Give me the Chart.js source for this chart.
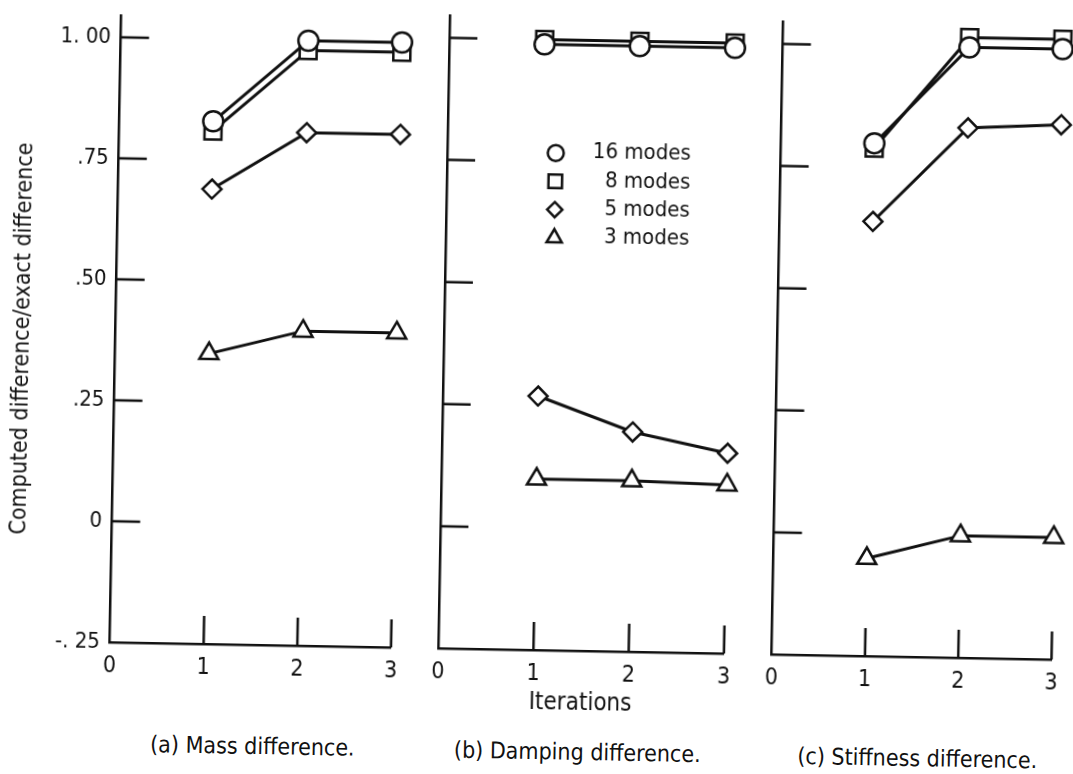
<!DOCTYPE html>
<html>
<head>
<meta charset="utf-8">
<title>Computed difference/exact difference vs iterations</title>
<script src="https://cdn.jsdelivr.net/npm/chart.js@4.4.1/dist/chart.umd.min.js"></script>
<style>
  html, body { margin: 0; padding: 0; background: #fff; overflow: hidden; }
  /* the plate is mounted with a slight clockwise tilt */
  #page { position: relative; width: 1073px; height: 774px; transform: rotate(1.05deg); transform-origin: 536.5px 387px; }
  #page canvas { position: absolute; }
  .caption { position: absolute; width: 400px; text-align: center; font-size: 23px; line-height: 30px; color: #111; white-space: nowrap; }
  #ytitle { position: absolute; left: -210px; top: 333px; width: 460px; height: 30px; line-height: 30px; text-align: center; font-size: 23px; color: #111; white-space: nowrap; transform: rotate(-90deg); }
</style>
</head>
<body>
<div id="page">
  <canvas id="mass" width="420" height="700" style="left:0;top:0"></canvas>
  <canvas id="damping" width="330" height="720" style="left:425px;top:0"></canvas>
  <canvas id="stiffness" width="313" height="700" style="left:760px;top:0"></canvas>
  <div id="ytitle">Computed difference/exact difference</div>
  <div class="caption" style="left:59px;top:736px">(a) Mass difference.</div>
  <div class="caption" style="left:384px;top:736px">(b) Damping difference.</div>
  <div class="caption" style="left:724px;top:736px">(c) Stiffness difference.</div>
</div>
<script>
// Iteration number on x, computed/exact difference ratio on y
const iterations = [1, 2, 3];
const seriesLabels = ['16 modes', '8 modes', '5 modes', '3 modes'];

const xTickValues = [0, 1, 2, 3];
const yTickValues = [-0.25, 0, 0.25, 0.5, 0.75, 1.0];
const yTickLabels = ['-. 25', '0', '.25', '.50', '.75', '1. 00'];

// (a) Mass difference
const massModes16 = [0.83, 1.00, 1.00];
const massModes8 = [0.81, 0.98, 0.98];
const massModes5 = [0.69, 0.81, 0.81];
const massModes3 = [0.35, 0.40, 0.40];

// (b) Damping difference
const dampingModes16 = [0.99, 0.99, 0.99];
const dampingModes8 = [1.00, 1.00, 1.00];
const dampingModes5 = [0.27, 0.20, 0.16];
const dampingModes3 = [0.10, 0.10, 0.095];

// (c) Stiffness difference
const stiffnessModes16 = [0.80, 1.00, 1.00];
const stiffnessModes8 = [0.79, 1.02, 1.02];
const stiffnessModes5 = [0.64, 0.835, 0.845];
const stiffnessModes3 = [-0.05, 0.00, 0.00];

const ink = '#111';
const pointStyles = ['circle', 'rect', 'rectRot', 'triangle'];
const pointRadii = [10, 12, 9.5, 11];
const TICK_LEN = 28;

/** First installed family from the list (width probe against generic fonts). */
function pickFamily(candidates, fallback) {
  const ctx = document.createElement('canvas').getContext('2d');
  const probe = 'Computed difference 0123';
  return candidates.find(name => ['monospace', 'serif'].some(generic => {
    ctx.font = `40px ${generic}`;
    const w0 = ctx.measureText(probe).width;
    ctx.font = `40px "${name}", ${generic}`;
    return ctx.measureText(probe).width !== w0;
  })) || fallback;
}

const family = pickFamily(['Liberation Sans Narrow', 'DejaVu Sans Condensed', 'Roboto Condensed'], 'Liberation Sans');
Chart.defaults.font.family = `"${family}", sans-serif`;
Chart.defaults.color = ink;
document.querySelectorAll('.caption, #ytitle').forEach(el => { el.style.fontFamily = `"${family}", sans-serif`; });

// tick marks point into the plot, drawn off the chart's own scales
const inwardTicks = {
  id: 'inwardTicks',
  beforeDatasetsDraw(chart) {
    const { ctx, scales: { x, y } } = chart;
    ctx.save();
    ctx.strokeStyle = ink;
    ctx.lineWidth = 2.5;
    ctx.beginPath();
    yTickValues.filter(v => v > y.min).forEach(v => {
      const py = y.getPixelForValue(v);
      ctx.moveTo(x.left, py);
      ctx.lineTo(x.left + TICK_LEN, py);
    });
    xTickValues.filter(v => v > x.min).forEach(v => {
      const px = x.getPixelForValue(v);
      ctx.moveTo(px, y.bottom);
      ctx.lineTo(px, y.bottom - TICK_LEN);
    });
    ctx.stroke();
    ctx.restore();
  }
};

// symbol key, placed inside panel (b)
const symbolKey = {
  id: 'symbolKey',
  afterDraw(chart, args, opts) {
    if (!opts.show) return;
    const { ctx, chartArea } = chart;
    const markX = chartArea.left + 108.5;
    const textRight = chartArea.left + 243.5;
    ctx.save();
    ctx.font = `22px "${family}", sans-serif`;
    ctx.textAlign = 'right';
    ctx.textBaseline = 'middle';
    chart.data.datasets.forEach((ds, i) => {
      const rowY = 152.7 + i * 28.3;
      ctx.fillStyle = '#fff';
      ctx.strokeStyle = ink;
      ctx.lineWidth = 2.5;
      Chart.helpers.drawPoint(ctx, { pointStyle: ds.pointStyle, radius: ds.pointRadius * 0.8, rotation: 0, borderWidth: 2.5 }, markX, rowY);
      ctx.fillStyle = ink;
      ctx.fillText(ds.label, textRight, rowY - 1);
    });
    ctx.restore();
  }
};

function makePanel(id, box, area, series, extra) {
  return new Chart(document.getElementById(id), {
    type: 'line',
    data: {
      datasets: series.map((values, i) => ({
        label: seriesLabels[i],
        data: iterations.map((x, k) => ({ x, y: values[k] })),
        pointStyle: pointStyles[i],
        pointRadius: pointRadii[i],
        clip: false
      }))
    },
    options: {
      responsive: false,
      animation: false,
      layout: { padding: { top: area.top, right: box.left + box.width - area.right, left: 0, bottom: 0 } },
      elements: {
        line: { borderColor: ink, borderWidth: 3, tension: 0 },
        point: { borderColor: ink, backgroundColor: '#fff', borderWidth: 2.5 }
      },
      plugins: {
        legend: { display: false },
        tooltip: { enabled: false },
        symbolKey: { show: !!extra.key }
      },
      scales: {
        x: {
          type: 'linear',
          min: 0,
          max: 3,
          afterBuildTicks: s => { s.ticks = xTickValues.map(value => ({ value })); },
          afterFit: s => { s.height = box.height - area.bottom; },
          grid: { display: false, drawTicks: false },
          border: { display: true, color: ink, width: 2.5 },
          ticks: { font: { size: 23 }, padding: 10, maxRotation: 0, autoSkip: false },
          title: extra.xTitle
            ? { display: true, text: extra.xTitle, font: { size: 24 }, padding: { top: 0, bottom: 3 } }
            : { display: false }
        },
        y: {
          type: 'linear',
          min: -0.25,
          max: 1.045,
          afterBuildTicks: s => { s.ticks = yTickValues.map(value => ({ value })); },
          afterFit: s => { s.width = area.left - box.left; },
          grid: { display: false, drawTicks: false },
          border: { display: true, color: ink, width: 2.5 },
          ticks: {
            display: !!extra.yLabels,
            font: { size: 22 },
            padding: 10,
            callback: v => yTickLabels[yTickValues.indexOf(v)]
          }
        }
      }
    },
    plugins: [inwardTicks, symbolKey]
  });
}

makePanel('mass',
  { left: 0, width: 420, height: 700 },
  { left: 114.7, right: 395.8, top: 17.5, bottom: 650 },
  [massModes16, massModes8, massModes5, massModes3],
  { yLabels: true });

makePanel('damping',
  { left: 425, width: 330, height: 720 },
  { left: 443, right: 728.8, top: 17.5, bottom: 650 },
  [dampingModes16, dampingModes8, dampingModes5, dampingModes3],
  { xTitle: 'Iterations', key: true });

makePanel('stiffness',
  { left: 760, width: 313, height: 700 },
  { left: 775.6, right: 1062, top: 17.5, bottom: 650 },
  [stiffnessModes16, stiffnessModes8, stiffnessModes5, stiffnessModes3],
  {});
</script>
</body>
</html>
